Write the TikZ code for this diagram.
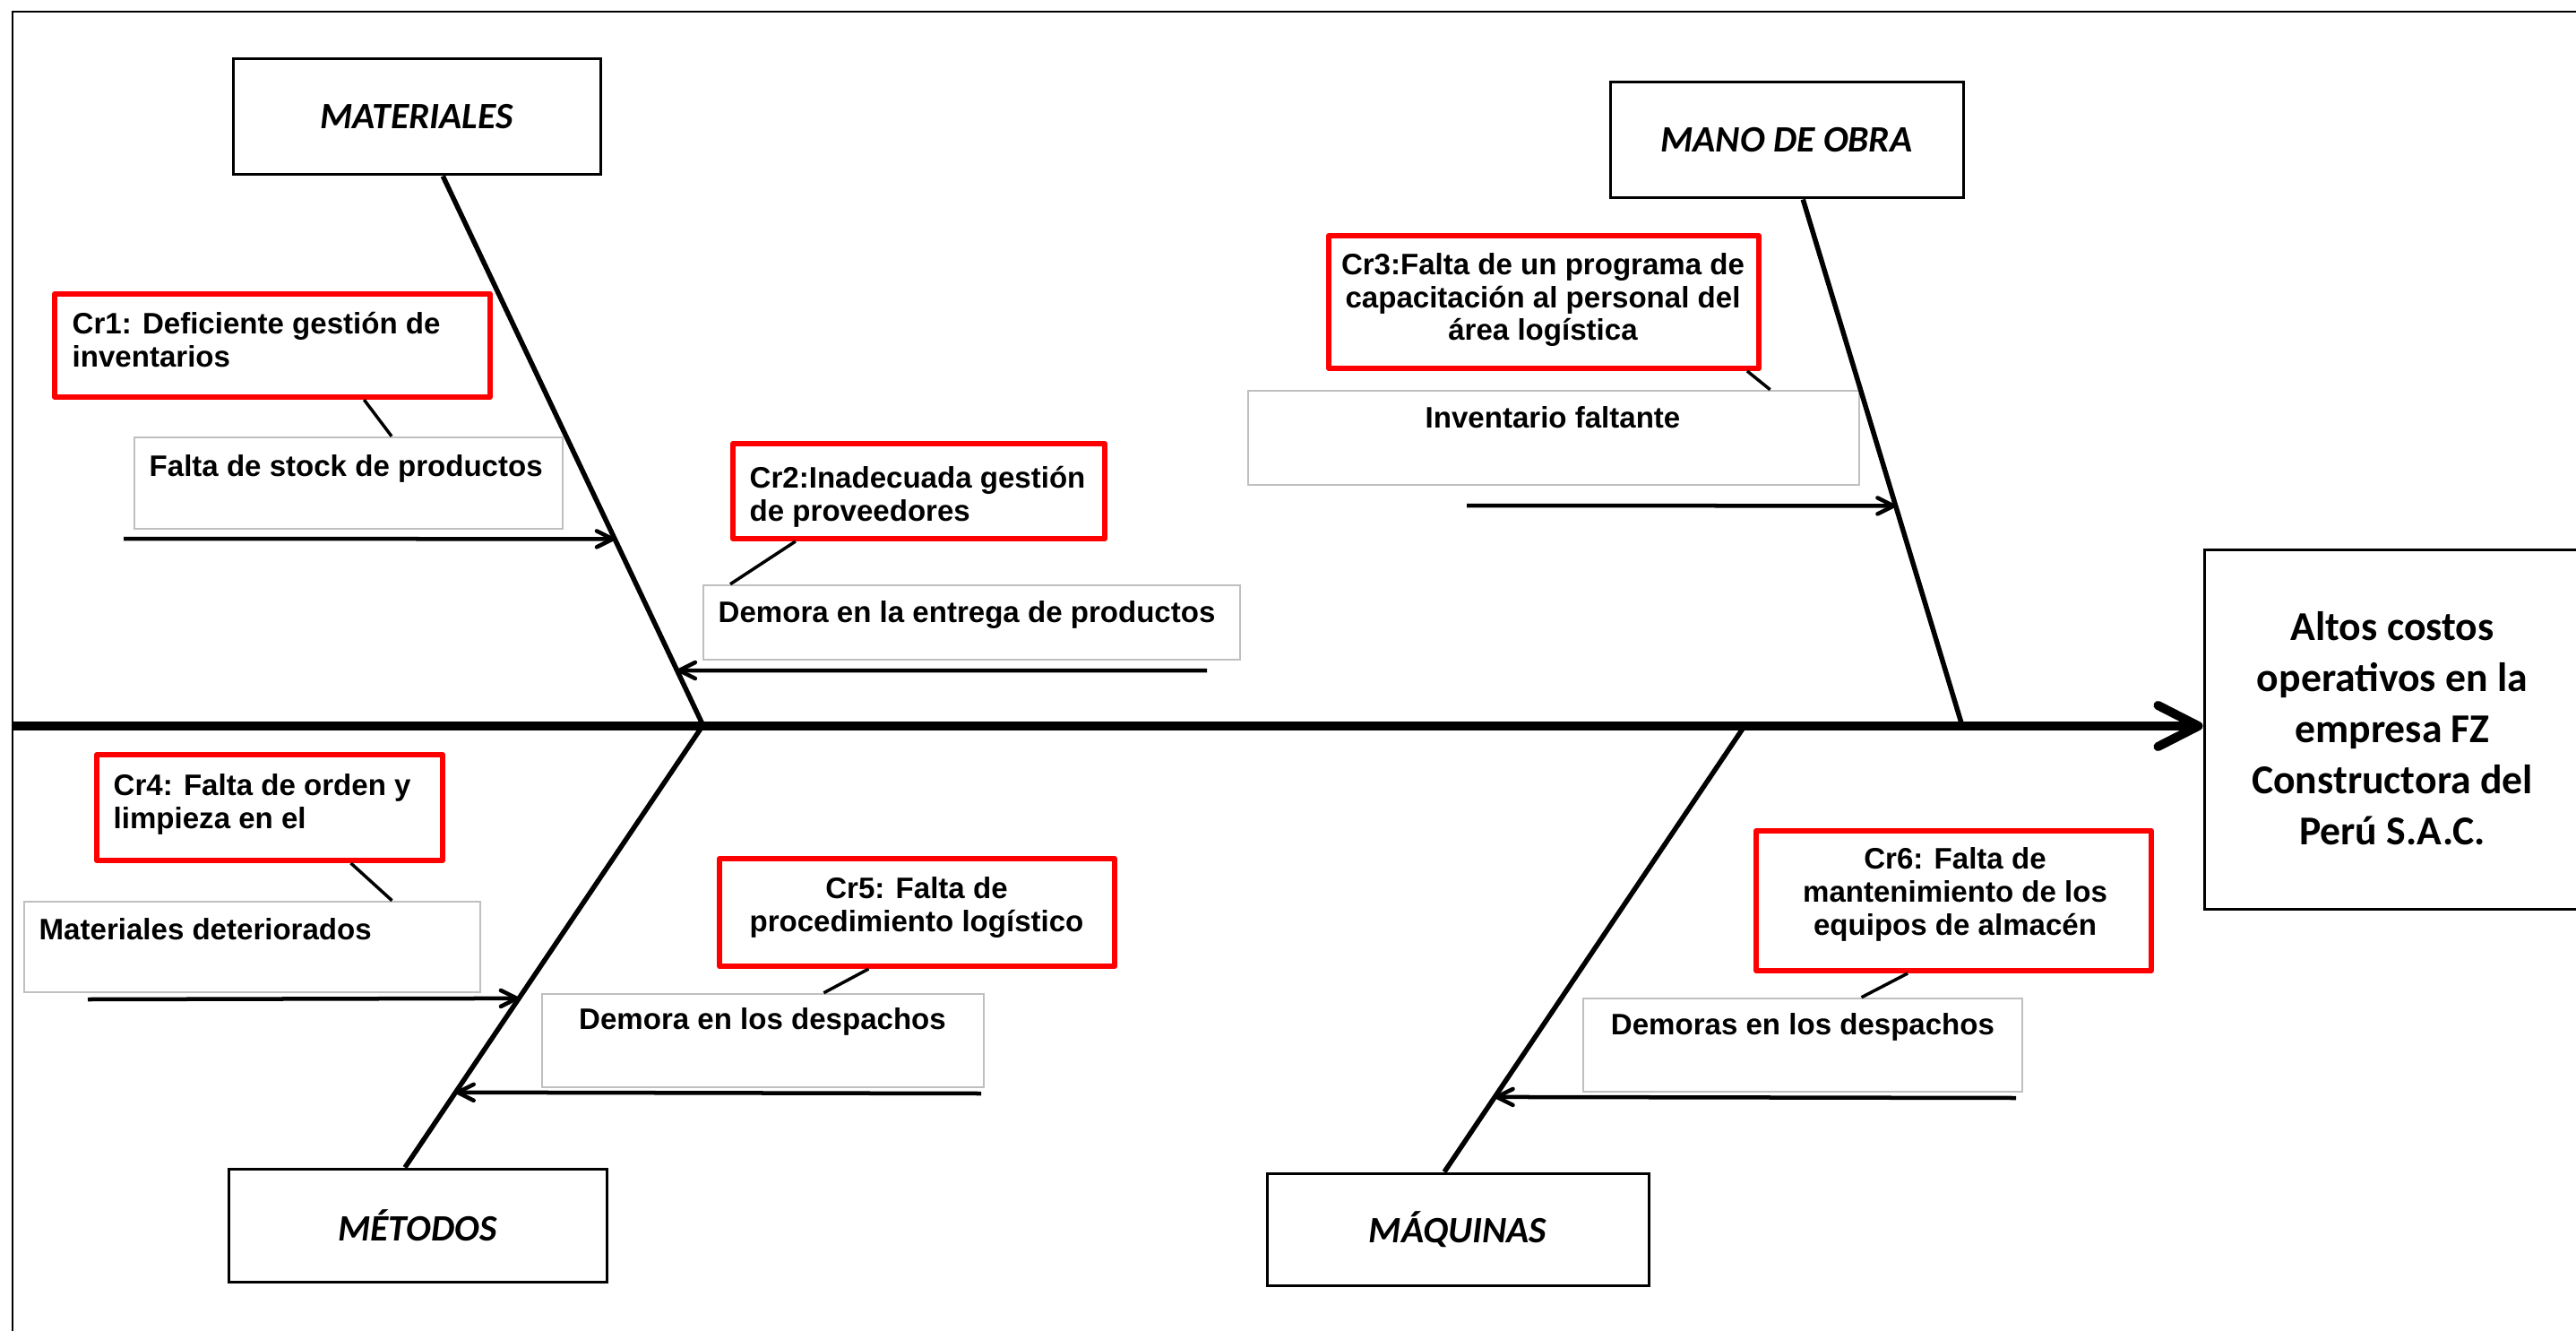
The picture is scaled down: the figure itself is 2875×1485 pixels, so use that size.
\documentclass[tikz,border=0pt]{standalone}
\usepackage{fontspec}
\setmainfont{Carlito}
\newfontfamily\causefont{Liberation Sans}
\usetikzlibrary{arrows.meta,calc,fit}
\newcommand{\tstrut}{\rule{0pt}{0.8em}}
\tikzset{
  catbox/.style={draw=black, line width=0.03cm, fill=white, inner sep=0pt},
  crbox/.style={draw=red, line width=0.06cm, line join=round, fill=white, inner sep=0pt},
  graybox/.style={draw=black!25, line width=0.025cm, fill=white, inner sep=0pt},
  effbox/.style={draw=black, line width=0.03cm, fill=white, inner sep=0pt},
  ctext/.style={inner sep=0pt, font=\causefont\fontsize{9.4}{10.5}\selectfont\bfseries},
  cattext/.style={inner sep=0pt, font=\fontsize{11.8}{14}\selectfont\bfseries\itshape},
  efftext/.style={inner sep=0pt, align=center, font=\fontsize{13}{16.2}\selectfont\bfseries},
  bone/.style={line width=0.055cm},
  spine/.style={line width=0.1cm, -{Straight Barb[length=4.5mm,width=4.6mm,round]}},
  carrow/.style={line width=0.045cm, -{Straight Barb[length=1.8mm,width=1.8mm,round]}},
  link/.style={line width=0.035cm},
}
\begin{document}
\begin{tikzpicture}[x=0.01cm, y=-0.01cm]
\useasboundingbox (0,0) rectangle (2875,1485);
% frame
\draw[line width=0.025cm] (14,1495) -- (14,13) -- (2885,13);

% category boxes
\node[catbox, fit={(260,66) (670,195)}] (mat) {};
\node[cattext] at (mat.center) {MATERIALES};
\node[catbox, fit={(1797,92) (2191,221)}] (mano) {};
\node[cattext] at (mano.center) {MANO DE OBRA};
\node[catbox, fit={(255,1304) (677,1430)}] (met) {};
\node[cattext] at (met.center) {MÉTODOS};
\node[catbox, fit={(1414,1309) (1840,1434)}] (maq) {};
\node[cattext] at (maq.center) {MÁQUINAS};

% effect box
\node[effbox, fit={(2460,613) (2885,1014)}] (eff) {};
\node[efftext] at (2670,813) {Altos costos\\operativos en la\\empresa FZ\\Constructora del\\Perú S.A.C.};

% gray effect boxes
\node[graybox, fit={(150,488) (628,590)}] (g1) {};
\node[ctext, anchor=north west] at (166,504) {\tstrut Falta de stock de productos};
\node[graybox, fit={(785,653) (1384,736)}] (g2) {};
\node[ctext, anchor=north west] at (801,667) {\tstrut Demora en la entrega de productos};
\node[graybox, fit={(1393,436) (2075,541)}] (g3) {};
\node[ctext, anchor=north] at (1733,450) {\tstrut Inventario faltante};
\node[graybox, fit={(27,1006) (536,1107)}] (g4) {};
\node[ctext, anchor=north west] at (43,1021) {\tstrut Materiales deteriorados};
\node[graybox, fit={(605,1109) (1098,1213)}] (g5) {};
\node[ctext, anchor=north] at (851,1121) {\tstrut Demora en los despachos};
\node[graybox, fit={(1767,1114) (2257,1218)}] (g6) {};
\node[ctext, anchor=north] at (2012,1127) {\tstrut Demoras en los despachos};

% red cause boxes
\node[crbox, fit={(61,328) (547,443)}] (cr1) {};
\node[ctext, anchor=north west, align=left] at (80,345) {\tstrut Cr1: Deficiente gestión de\\inventarios};
\node[crbox, fit={(818,495) (1233,601)}] (cr2) {};
\node[ctext, anchor=north west, align=left] at (836,517) {\tstrut Cr2:Inadecuada gestión\\de proveedores};
\node[crbox, fit={(1483,263) (1963,411)}] (cr3) {};
\node[ctext, anchor=north, align=center] at (1722,279) {\tstrut Cr3:Falta de un programa de\\capacitación al personal del\\área logística};
\node[crbox, fit={(108,842) (494,960)}] (cr4) {};
\node[ctext, anchor=north west, align=left] at (126,860) {\tstrut Cr4: Falta de orden y\\limpieza en el};
\node[crbox, fit={(803,958) (1244,1078)}] (cr5) {};
\node[ctext, anchor=north, align=center] at (1023,975) {\tstrut Cr5: Falta de\\procedimiento logístico};
\node[crbox, fit={(1960,927) (2401,1083)}] (cr6) {};
\node[ctext, anchor=north, align=center] at (2182,942) {\tstrut Cr6: Falta de\\mantenimiento de los\\equipos de almacén};

% spine
\coordinate (spineL) at (14,810);
\draw[spine] (spineL) -- (spineL -| eff.west);

% bones
\coordinate (matT) at ($(mat.south west)!0.571!(mat.south east)$);
\coordinate (matB) at (785,810);
\coordinate (manoT) at ($(mano.south west)!0.546!(mano.south east)$);
\coordinate (manoB) at (2190,810);
\coordinate (metT) at ($(met.north west)!0.467!(met.north east)$);
\coordinate (metB) at (784,810);
\coordinate (maqT) at ($(maq.north west)!0.465!(maq.north east)$);
\coordinate (maqB) at (1947,810);
\draw[bone] (matT) -- (matB);
\draw[bone] (manoT) -- (manoB);
\draw[bone] (metT) -- (metB);
\draw[bone] (maqT) -- (maqB);

% cause arrows
\coordinate (a1) at (138,601);
\coordinate (a2) at (1347,748);
\coordinate (a3) at (1637,564);
\coordinate (a4) at (98,1115);
\coordinate (a5) at (1095,1220);
\coordinate (a6) at (2250,1225);
\draw[carrow] (a1) -- ($(matT)!0.660!(matB)$);
\draw[carrow] (a2) -- ($(matT)!0.899!(matB)$);
\draw[carrow] (a3) -- ($(manoT)!0.582!(manoB)$);
\draw[carrow] (a4) -- ($(metT)!0.383!(metB)$);
\draw[carrow] (a5) -- ($(metT)!0.170!(metB)$);
\draw[carrow] (a6) -- ($(maqT)!0.168!(maqB)$);

% links between cause boxes and effect boxes
\draw[link] ($(cr1.south west)!0.708!(cr1.south east)$) -- ($(g1.north west)!0.600!(g1.north east)$);
\draw[link] ($(cr2.south west)!0.173!(cr2.south east)$) -- ($(g2.north west)!0.052!(g2.north east)$);
\draw[link] ($(cr3.south west)!0.967!(cr3.south east)$) -- ($(g3.north west)!0.853!(g3.north east)$);
\draw[link] ($(cr4.south west)!0.731!(cr4.south east)$) -- ($(g4.north west)!0.805!(g4.north east)$);
\draw[link] ($(cr5.south west)!0.379!(cr5.south east)$) -- ($(g5.north west)!0.637!(g5.north east)$);
\draw[link] ($(cr6.south west)!0.385!(cr6.south east)$) -- ($(g6.north west)!0.633!(g6.north east)$);
\end{tikzpicture}
\end{document}
